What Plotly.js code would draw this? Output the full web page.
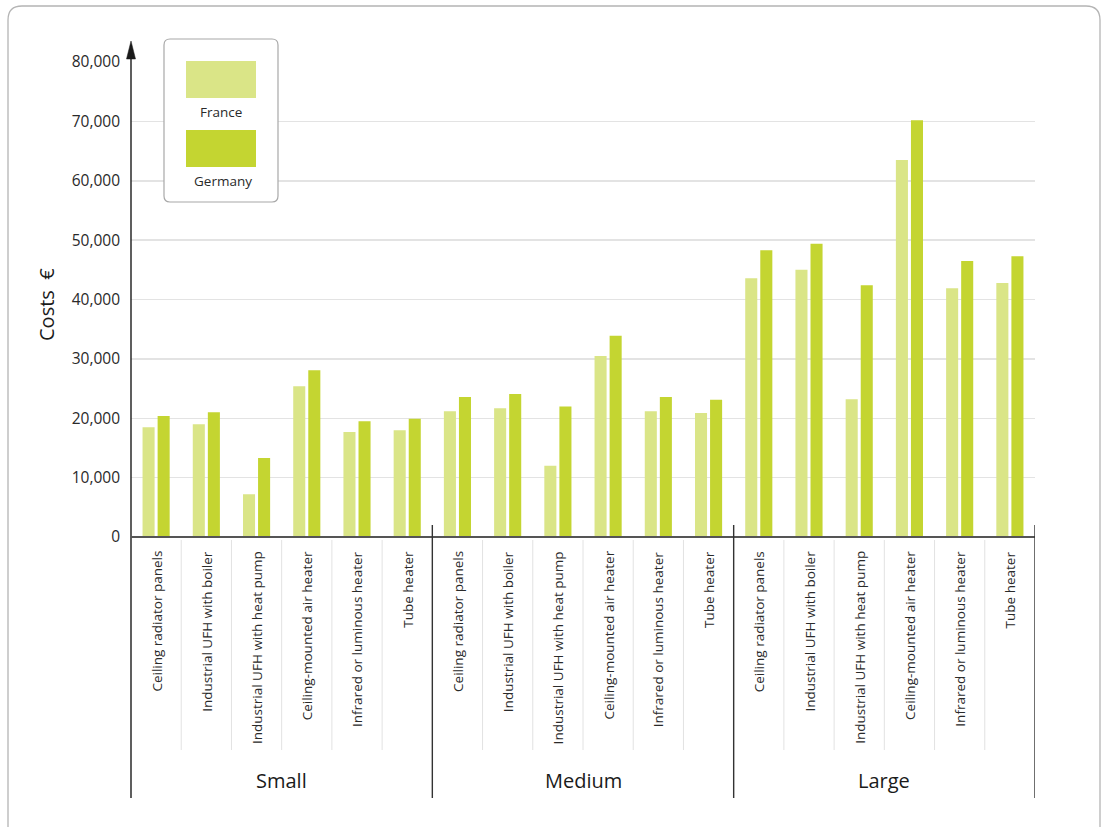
<!DOCTYPE html>
<html>
<head>
<meta charset="utf-8">
<script src="https://cdn.plot.ly/plotly-3.0.1.min.js"></script>
<style>
  html, body { margin: 0; padding: 0; background: #ffffff; }
  #chart { width: 1102px; height: 827px; }
</style>
</head>
<body>
<div id="chart"></div>
<script>
// ---------- data ----------
const heaterTypes = [
  "Ceiling radiator panels",
  "Industrial UFH with boiler",
  "Industrial UFH with heat pump",
  "Ceiling-mounted air heater",
  "Infrared or luminous heater",
  "Tube heater"
];
const sizeGroups = ["Small", "Medium", "Large"];
const seriesNames = ["France", "Germany"];

const franceSmall  = [18500, 19000, 7200, 25400, 17700, 18000];
const germanySmall = [20400, 21000, 13300, 28100, 19500, 19900];
const franceMedium  = [21200, 21700, 12000, 30500, 21200, 20900];
const germanyMedium = [23600, 24100, 22000, 33900, 23600, 23100];
const franceLarge  = [43600, 45000, 23200, 63500, 41900, 42800];
const germanyLarge = [48300, 49400, 42400, 70200, 46500, 47300];

const yTickValues = [0, 10000, 20000, 30000, 40000, 50000, 60000, 70000, 80000];

// ---------- build ----------
const france = [].concat(franceSmall, franceMedium, franceLarge);
const germany = [].concat(germanySmall, germanyMedium, germanyLarge);
const nCat = france.length;
const xIdx = france.map((_, i) => i);
const catLabels = [];
sizeGroups.forEach(() => heaterTypes.forEach(t => catLabels.push(t)));

const colFrance = "#dae587";
const colGermany = "#c4d531";

const traces = [
  { type: "bar", name: seriesNames[0], x: xIdx, y: france, marker: { color: colFrance }, hoverinfo: "y" },
  { type: "bar", name: seriesNames[1], x: xIdx, y: germany, marker: { color: colGermany }, hoverinfo: "y" }
];

// plot area geometry in px (for converting decorative elements)
const L = 131, R = 1035, T = 62, B = 537;
const W = R - L, H = B - T;
const px = v => (v - L) / W;
const py = v => (B - v) / H;

const shapes = [];
const annotations = [];

// outer rounded frame
(function () {
  const x0 = px(8), x1 = px(1100), y0 = py(6), y1 = py(860);
  const rx = 14 / W, ry = 14 / H;
  shapes.push({
    type: "path", xref: "paper", yref: "paper",
    path: `M ${x0 + rx} ${y0} L ${x1 - rx} ${y0} Q ${x1} ${y0} ${x1} ${y0 - ry} L ${x1} ${y1} L ${x0} ${y1} L ${x0} ${y0 - ry} Q ${x0} ${y0} ${x0 + rx} ${y0} Z`,
    line: { color: "#b4b4b4", width: 1.3 }, layer: "below"
  });
})();

// y axis line with arrow
shapes.push({ type: "line", xref: "paper", yref: "paper", x0: 0, x1: 0, y0: py(798), y1: py(50),
  line: { color: "#1a1a1a", width: 1.4 } });
shapes.push({ type: "path", xref: "paper", yref: "paper",
  path: `M ${px(126.5)} ${py(59)} L ${px(131)} ${py(41)} L ${px(135.5)} ${py(59)} Z`,
  fillcolor: "#1a1a1a", line: { color: "#1a1a1a", width: 0.5 } });

// x axis baseline
shapes.push({ type: "line", xref: "paper", yref: "paper", x0: 0, x1: 1, y0: 0, y1: 0,
  line: { color: "#555555", width: 2 } });

// group separators (data coords for x)
for (let g = 1; g <= sizeGroups.length; g++) {
  const xb = g * heaterTypes.length - 0.5;
  shapes.push({ type: "line", xref: "x", yref: "paper", x0: xb, x1: xb, y0: py(525), y1: py(798),
    line: { color: "#333333", width: 1.4 } });
}
// light category separators
for (let i = 1; i < nCat; i++) {
  if (i % heaterTypes.length === 0) continue;
  shapes.push({ type: "line", xref: "x", yref: "paper", x0: i - 0.5, x1: i - 0.5, y0: py(540), y1: py(750),
    line: { color: "#e2e2e2", width: 1 } });
}

// category labels
catLabels.forEach((t, i) => {
  annotations.push({ x: i, xref: "x", y: py(549), yref: "paper", text: t, showarrow: false,
    textangle: -90, xanchor: "center", yanchor: "top",
    font: { family: "Open Sans, sans-serif", size: 13.5, color: "#2a2a2a" } });
});
// group labels
sizeGroups.forEach((g, k) => {
  annotations.push({ x: k * heaterTypes.length + (heaterTypes.length - 1) / 2, xref: "x",
    y: py(780), yref: "paper", text: g, showarrow: false, xanchor: "center", yanchor: "middle",
    font: { family: "Open Sans, sans-serif", size: 20, color: "#1a1a1a" } });
});

// y title
annotations.push({ x: px(46), xref: "paper", y: py(305), yref: "paper", text: "Costs  €",
  showarrow: false, textangle: -90, xanchor: "center", yanchor: "middle",
  font: { family: "Open Sans, sans-serif", size: 20, color: "#1a1a1a" } });

// custom legend
(function () {
  const x0 = px(164), x1 = px(278), y0 = py(39), y1 = py(202);
  const rx = 6 / W, ry = 6 / H;
  shapes.push({ type: "path", xref: "paper", yref: "paper",
    path: `M ${x0 + rx} ${y0} L ${x1 - rx} ${y0} Q ${x1} ${y0} ${x1} ${y0 - ry} L ${x1} ${y1 + ry} Q ${x1} ${y1} ${x1 - rx} ${y1} L ${x0 + rx} ${y1} Q ${x0} ${y1} ${x0} ${y1 + ry} L ${x0} ${y0 - ry} Q ${x0} ${y0} ${x0 + rx} ${y0} Z`,
    fillcolor: "#ffffff", line: { color: "#a8a8a8", width: 1.2 } });
  shapes.push({ type: "rect", xref: "paper", yref: "paper", x0: px(186), x1: px(256), y0: py(61), y1: py(98),
    fillcolor: colFrance, line: { width: 0 } });
  shapes.push({ type: "rect", xref: "paper", yref: "paper", x0: px(186), x1: px(256), y0: py(130), y1: py(167),
    fillcolor: colGermany, line: { width: 0 } });
  annotations.push({ x: px(221), xref: "paper", y: py(112), yref: "paper", text: seriesNames[0],
    showarrow: false, xanchor: "center", yanchor: "middle",
    font: { family: "Open Sans, sans-serif", size: 13.5, color: "#2a2a2a" } });
  annotations.push({ x: px(223), xref: "paper", y: py(181), yref: "paper", text: seriesNames[1],
    showarrow: false, xanchor: "center", yanchor: "middle",
    font: { family: "Open Sans, sans-serif", size: 13.5, color: "#2a2a2a" } });
})();

const layout = {
  width: 1102, height: 827,
  margin: { l: L, r: 1102 - R, t: T, b: 827 - B, pad: 0 },
  paper_bgcolor: "#ffffff", plot_bgcolor: "#ffffff",
  barmode: "group", bargap: 0.40, bargroupgap: 0.2,
  showlegend: false,
  font: { family: "Open Sans, sans-serif", color: "#2a2a2a" },
  xaxis: { range: [-0.5, nCat - 0.5], showticklabels: false, showgrid: false, zeroline: false,
    showline: false, ticks: "", fixedrange: true },
  yaxis: { range: [0, 80000], tickvals: yTickValues, tickformat: ",", showgrid: true,
    gridcolor: "#e3e3e3", gridwidth: 1.5, zeroline: false, showline: false, ticks: "",
    ticklabelstandoff: 10, tickfont: { family: "Open Sans, sans-serif", size: 15.5, color: "#2a2a2a" },
    fixedrange: true },
  shapes: shapes,
  annotations: annotations
};

Plotly.newPlot("chart", traces, layout, { displayModeBar: false, staticPlot: true });
</script>
</body>
</html>
